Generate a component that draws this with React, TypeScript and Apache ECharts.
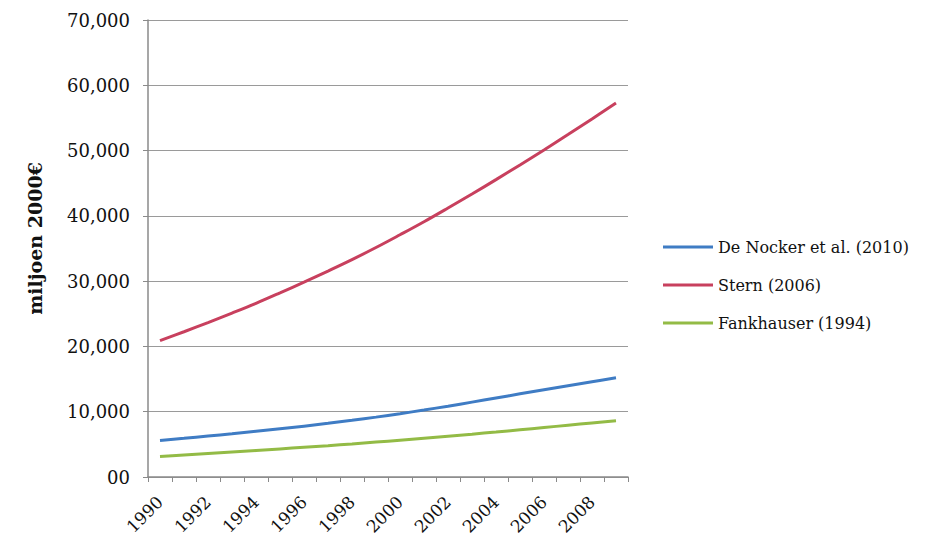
import React, { useEffect, useRef } from "react";
import * as echarts from "echarts";

const years = ["1990","1991","1992","1993","1994","1995","1996","1997","1998","1999","2000","2001","2002","2003","2004","2005","2006","2007","2008","2009"];
const deNocker = [5600,5930,6270,6620,6990,7380,7790,8220,8680,9170,9700,10260,10850,11470,12100,12740,13370,13990,14600,15200];
const stern = [20900,22250,23650,25100,26600,28200,29850,31550,33300,35150,37100,39100,41200,43350,45550,47800,50100,52450,54850,57300];
const fankhauser = [3150,3370,3595,3825,4060,4300,4550,4805,5070,5345,5635,5935,6245,6565,6895,7235,7580,7930,8280,8630];
const seriesNames = ["De Nocker et al. (2010)", "Stern (2006)", "Fankhauser (1994)"];
const yTickLabels: Record<number, string> = { 0: "00", 10000: "10,000", 20000: "20,000", 30000: "30,000", 40000: "40,000", 50000: "50,000", 60000: "60,000", 70000: "70,000" };

const FONT = "DejaVu Serif";

export default function App() {
  const ref = useRef<HTMLDivElement>(null);
  useEffect(() => {
    if (!ref.current) return;
    const chart = echarts.init(ref.current, null, { renderer: "svg" });
    const mk = (name: string, data: number[], color: string) => ({
      name, type: "line", data, smooth: 0.4, showSymbol: false,
      lineStyle: { color, width: 3 }, itemStyle: { color },
    });
    chart.setOption({
      animation: false,
      backgroundColor: "#ffffff",
      grid: { left: 148, right: 307, top: 20, bottom: 69 },
      legend: {
        orient: "vertical", left: 658, top: 234, itemGap: 22,
        itemWidth: 50, itemHeight: 3, icon: "rect",
        textStyle: { fontFamily: FONT, fontSize: 16, color: "#111" },
        data: seriesNames,
      },
      xAxis: {
        type: "category", data: years, boundaryGap: true,
        axisLine: { lineStyle: { color: "#8a8a8a", width: 1.5 } },
        axisTick: { show: true, interval: 0, length: 5, lineStyle: { color: "#8a8a8a" } },
        axisLabel: { interval: 1, rotate: 45, fontFamily: FONT, fontSize: 17, color: "#111", margin: 22 },
      },
      yAxis: {
        type: "value", min: 0, max: 70000, interval: 10000,
        name: "miljoen 2000€", nameLocation: "middle", nameGap: 104,
        nameTextStyle: { fontFamily: FONT, fontSize: 19, fontWeight: "bold", color: "#111", padding: [0, 0, 0, 20] },
        axisLine: { show: true, lineStyle: { color: "#8a8a8a", width: 1.5 } },
        axisTick: { show: true, length: 5, lineStyle: { color: "#8a8a8a" } },
        splitLine: { lineStyle: { color: "#9a9a9a", width: 1.2 } },
        axisLabel: { fontFamily: FONT, fontSize: 18, color: "#111", margin: 18, formatter: (v: number) => yTickLabels[v] ?? String(v) },
      },
      series: [
        mk(seriesNames[0], deNocker, "#3f7cc4"),
        mk(seriesNames[1], stern, "#c8405e"),
        mk(seriesNames[2], fankhauser, "#93bb46"),
      ],
    });
    return () => chart.dispose();
  }, []);
  return <div ref={ref} style={{ width: 935, height: 546, position: "absolute", left: 0, top: 0 }} />;
}
